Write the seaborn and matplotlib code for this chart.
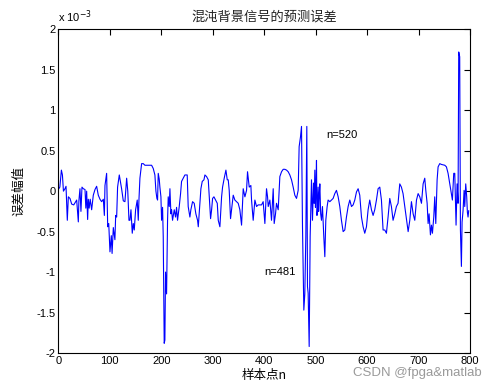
import matplotlib
matplotlib.use("Agg")
import matplotlib.pyplot as plt
import seaborn as sns
import pandas as pd

# sample index n and prediction error (units of 1e-3)
n_idx = [0, 3, 6, 8, 10, 13, 15, 17.5, 19.5, 22.7, 26, 30, 35.7, 38.9, 40, 42.1, 44, 46,
         48.6, 51.9, 53.5, 55.1, 57, 58.3, 60, 62, 64.8, 68, 71.3, 74.5, 77.7, 81, 84.2,
         87.5, 89.5, 90.7, 93.9, 96, 98, 100.4, 103, 104.5, 106.9, 110, 111.5, 113.4,
         115.2, 118.5, 123, 126.3, 129.5, 132.8, 135, 137.3,
         139.2, 141.2, 143.7, 145.7, 147.6, 150.2, 153.4, 155.4, 156.7, 158.6, 161.9,
         165.1, 168.3, 174.8, 181.3, 184.5, 187.7, 189.7, 191.6, 192.9, 194.2, 196.1,
         197.4, 199.4, 200.7, 202.6, 203.9, 205.8, 207.1, 208.4, 210.4, 212.3, 213.6,
         215.6, 216.9, 218.8, 220.1, 222, 225.3, 227.8, 229.8, 231.7, 235, 237.6, 239.5,
         242.7, 246, 250.5, 252.4, 255.7, 257.6, 260.9, 264.1, 267.3, 270.6,
         272, 275.2, 277.1, 279.7, 283, 284.9, 288.1, 291.4, 293.3, 295.9, 297.9, 299.8,
         302.4, 305.6, 308.9, 310.8, 314, 317.3, 319.2, 322.4, 325.7, 328.3, 330.2,
         332.1, 334.7, 336.7, 339.9, 343.1, 346.4, 349.6, 352.8, 356.1, 359.3, 362.6,
         365.8, 367.7, 371, 374.2, 375.5, 378.7, 382, 385.2, 388.4, 394.9, 398.1, 401.4,
         404.6, 406.6, 407.9, 411.1, 414.3, 417.6, 419.5, 422.1, 424, 427.3, 430.5,
         433.8, 437, 440.2, 443.5, 446.7, 449.9, 453.2, 456.4, 459.6, 462.9, 466.1, 468,
         470.6, 472.6, 474.5, 477.1, 479, 481, 482.9, 484.2, 485.5, 487.5, 489.4, 492,
         493.9, 495.9, 497.2, 498.5, 499.7, 500.7, 501.7, 502.6, 503.6, 504.9, 505.9,
         506.9, 508.2, 509.8, 511.4, 513.3,
         515.9, 517.9, 519.8, 522.4, 524.3, 527.6, 530.8, 534, 537.3, 540.5, 543.8,
         547, 550.2, 553.5, 556.7, 559.9, 563.2, 566.4, 569.7, 572.9, 576.1, 579.4,
         582.6, 585.8, 589.1, 592.3, 595.5, 598.8, 602, 605.2, 608.5, 611.7, 614.9,
         618.2, 621.4, 624.7, 627.9, 631.1, 634.4, 637.6, 640.8, 644.1, 647.3, 650.5,
         653.8, 657, 660.2, 663.5, 666.7, 669.9, 673.2, 676.5, 679.8, 683, 686.2,
         689.5, 692.7, 696, 699.2, 702.4, 705.7, 708.9, 712.1, 714.1, 716.7, 718.6,
         720.5, 723.1, 725.1, 727, 729.6, 731.5, 733.5, 736.1, 738, 741.2, 744.5, 751,
         754.2, 757.4, 760.7, 763.9, 765.8, 768.4, 770.4, 771.6, 772.9, 774.9, 776.8,
         778.1, 780, 781.4, 783.3, 784.6, 786.5, 788.5, 789.8, 791.7, 793.6, 794.9,
         796.2, 797.5]
err_e3 = [0.02, 0.05, 0.26, 0.20, 0.0, 0.03, 0.06, -0.36, -0.07, -0.09, -0.16, -0.17, -0.11,
          -0.38, -0.12, 0.03, -0.25, 0.05, 0.03, 0.02, -0.21, 0.0, -0.35, -0.1, -0.21, -0.1,
          -0.23, -0.05, 0.02, 0.06, -0.05, -0.1, -0.13, -0.1, -0.3, 0.07, 0.22, -0.44, -0.4,
          -0.75, -0.55, -0.77, -0.45, -0.6, -0.3, -0.32, 0.05, 0.2, 0.03, -0.12, -0.13, 0.16,
          0.0, -0.36,
          -0.36, -0.23, -0.52, -0.4, -0.48, -0.23, -0.11, -0.36, -0.11, 0.16, 0.34,
          0.34, 0.32, 0.32, 0.32, 0.28, 0.2, 0.0, -0.09, -0.11, 0.22, 0.15,
          0.05, -0.07, -0.36, -0.2, -0.56, -1.88, -1.84, -1.0, -1.27, -0.36, -0.07,
          -0.19, 0.03, -0.28, -0.23, -0.36, -0.23, -0.32, -0.2, -0.36, -0.19, -0.03, 0.12,
          0.16, 0.2, 0.2, -0.19, -0.32, -0.23, -0.13, -0.15, -0.28, -0.36,
          -0.44, -0.15, 0.03, 0.12, 0.14, 0.2, 0.18, 0.14, -0.07, -0.34, -0.23, -0.09,
          -0.07, -0.11, -0.15, -0.36, -0.44, -0.07, 0.05, 0.16, 0.26, 0.14, 0.14,
          0.01, -0.34, -0.23, -0.05, -0.11, -0.13, -0.15, -0.23, -0.42, 0.03, -0.07,
          0.01, 0.24, 0.05, 0.07, -0.11, -0.36, -0.11, -0.19, -0.17, -0.17, -0.13, -0.40,
          0.03, -0.07, -0.19, -0.11, -0.36, 0.03, -0.40, -0.28, -0.15, -0.23, 0.18,
          0.24, 0.27, 0.27, 0.26, 0.24, 0.2, 0.14, 0.05, -0.05, -0.09, 0.01, 0.55,
          0.67, 0.8, -0.44, -1.47, -1.27, -0.56, 0.8, -1.18, -1.26, -1.92, -0.56, 0.14,
          -0.36, 0.1, -0.15, 0.26, -0.2, 0.05, 0.38, -0.3, -0.23, 0.05, -0.25,
          -0.07, 0.09, -0.28, -0.36, -0.19,
          -0.56, -0.81, -0.36, -0.19, -0.11, -0.13, -0.11, -0.09, -0.03, 0.01, -0.07,
          -0.19, -0.36, -0.50, -0.48, -0.32, -0.19, -0.11, -0.19, -0.17, -0.11, -0.01,
          0.03, -0.05, -0.32, -0.44, -0.52, -0.44, -0.23, -0.11, -0.23, -0.30, -0.23,
          -0.11, 0.03, 0.05, -0.11, -0.48, -0.48, -0.52, -0.32, -0.09, -0.19, -0.36,
          -0.28, -0.19, -0.15, 0.09, 0.05, -0.03, -0.19, -0.34, -0.50, -0.36, -0.13,
          -0.28, -0.36, -0.11, -0.03, -0.07, -0.15, 0.09, 0.16, 0.01, -0.15, -0.40,
          -0.28, -0.54, -0.42, -0.52, -0.32, -0.07, -0.40, 0.14, 0.30, 0.34, 0.33, 0.32,
          0.30, 0.22, 0.09, -0.03, -0.11, 0.22, 0.22, -0.07, -0.42, 0.09, -0.15,
          1.72, 1.66, -0.48, -0.93, -0.38, -0.24, 0.01, -0.19, 0.09, -0.07, -0.26,
          -0.32, -0.24]

x_ticks = [0, 100, 200, 300, 400, 500, 600, 700, 800]
y_ticks = [-2, -1.5, -1, -0.5, 0, 0.5, 1, 1.5, 2]
y_tick_labels = ["-2", "-1.5", "-1", "-0.5", "0", "0.5", "1", "1.5", "2"]

title_text = "混沌背景信号的预测误差"
xlabel_text = "样本点n"
ylabel_text = "误差幅值"

df = pd.DataFrame({"n": n_idx, "err": err_e3})

sns.set_theme(style="white")
plt.rcParams["font.family"] = ["Liberation Sans", "Noto Sans CJK SC", "DejaVu Sans"]
plt.rcParams["axes.unicode_minus"] = False

fig = plt.figure(figsize=(4.97, 3.91), dpi=100)
ax = fig.add_axes([58.3 / 497, 1 - 353 / 391, (470 - 58.3) / 497, (353 - 29.3) / 391])

sns.lineplot(data=df, x="n", y="err", ax=ax, sort=False, estimator=None,
             color="#0000ff", linewidth=0.8)

ax.set_xlim(0, 800)
ax.set_ylim(-2, 2)
ax.set_xticks(x_ticks)
ax.set_xticklabels([str(t) for t in x_ticks])
ax.set_yticks(y_ticks)
ax.set_yticklabels(y_tick_labels)
ax.tick_params(direction="in", length=4, width=0.8, top=True, right=True,
               labelsize=8, colors="black", pad=2)
for sp in ax.spines.values():
    sp.set_visible(True)
    sp.set_color("black")
    sp.set_linewidth(0.8)

cjk = ["Noto Sans CJK SC", "DejaVu Sans"]
ax.set_title(title_text, family=cjk, fontsize=9.5, color="#222222", pad=6)
ax.set_xlabel(xlabel_text, family=cjk, fontsize=9, color="black", labelpad=2)
ax.set_ylabel(ylabel_text, family=cjk, fontsize=9, color="black", labelpad=8)

ax.text(0.0, 1.012, r"x 10$^{-3}$", transform=ax.transAxes, fontsize=8,
        ha="left", va="bottom", color="black")

ax.text(520, 0.7, "n=520", fontsize=8, ha="left", va="center", color="black")
ax.text(400, -1.0, "n=481", fontsize=8, ha="left", va="center", color="black")

fig.text(482 / 497, 1 - 373 / 391, "CSDN @fpga&matlab", fontsize=9.5, color="#9a9a9a",
         ha="right", va="center")

fig.savefig("out.png", dpi=100)
